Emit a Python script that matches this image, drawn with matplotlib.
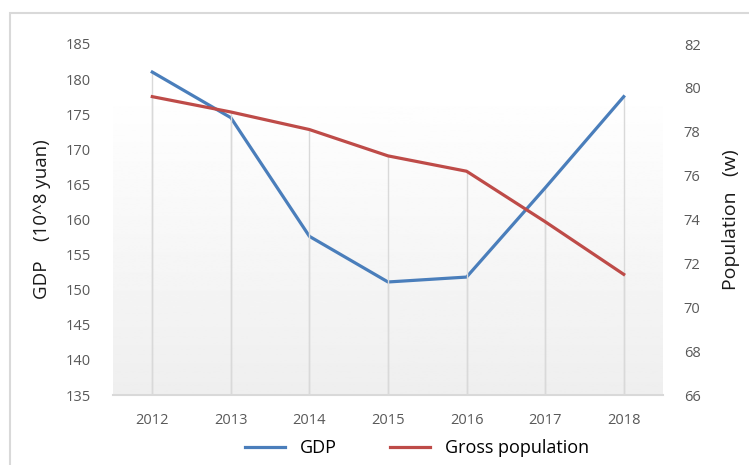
import numpy as np
import matplotlib.pyplot as plt
from matplotlib.patches import Rectangle

# Data
years = ["2012", "2013", "2014", "2015", "2016", "2017", "2018"]
gdp = [181.0, 174.5, 157.6, 151.1, 151.8, 164.5, 177.5]
population = [79.6, 78.9, 78.1, 76.9, 76.2, 73.9, 71.5]

plt.rcParams['font.family'] = ['Open Sans', 'DejaVu Sans']

blue = "#4A7EBB"
red = "#BE4B48"
grid = "#d9d9d9"
tick_col = "#595959"

fig = plt.figure(figsize=(7.49, 4.65), dpi=100)
fig.patch.set_facecolor("white")

# chart border (cropped on right / bottom)
fig.patches.append(Rectangle((10/749, -0.2), 1.3, 0.2 + 1 - 13/465,
                             transform=fig.transFigure, facecolor="none",
                             edgecolor="#d9d9d9", linewidth=1.5))

ax = fig.add_axes([113/749, 1 - 395/465, 550/749, 351/465])
ax2 = ax.twinx()

x = np.arange(len(years))

# plot area gradient
grad = np.linspace(0.935, 1.0, 256).reshape(-1, 1)
ax.imshow(grad, cmap="gray", vmin=0, vmax=1, aspect="auto",
          extent=[0, 1, 0, 0.875], transform=ax.transAxes,
          origin="lower", zorder=0)

# Axis ranges
ax.set_xlim(-0.5, len(years) - 0.5)
ax.set_ylim(135, 185)
ax2.set_ylim(66, 82)

# Drop lines
ax.vlines(x, 135, gdp, color=grid, linewidth=1, zorder=1)
ax2.vlines(x, 66, population, color=grid, linewidth=1, zorder=1)

# Lines
l1, = ax.plot(x, gdp, color=blue, linewidth=2.3, zorder=3, label="GDP")
l2, = ax2.plot(x, population, color=red, linewidth=2.3, zorder=3,
               label="Gross population")

ax.set_xticks(x)
ax.set_xticklabels(years)
ax.set_yticks(np.arange(135, 186, 5))
ax2.set_yticks(np.arange(66, 83, 2))

for a in (ax, ax2):
    for s in a.spines.values():
        s.set_visible(False)
    a.tick_params(length=0, labelsize=10.5, colors=tick_col)
ax.spines["bottom"].set_visible(True)
ax.spines["bottom"].set_color(grid)
ax.spines["bottom"].set_linewidth(1.5)
ax.tick_params(axis="y", pad=16)
ax.tick_params(axis="x", pad=13)
ax2.tick_params(axis="y", pad=15)

ax.set_ylabel("GDP    (10^8 yuan)", fontsize=13.5, color="#1a1a1a")
ax.yaxis.set_label_coords(-0.112, 0.5)
ax2.set_ylabel("Population   (w)", fontsize=14, color="#1a1a1a")
ax2.yaxis.set_label_coords(1.108, 0.5)

fig.legend(handles=[l1, l2], loc="center", ncol=2, frameon=False,
           bbox_to_anchor=(417/749, 1 - 448/465), fontsize=13,
           handlelength=2.2, handletextpad=0.8, columnspacing=3.0)

plt.savefig("out.png", dpi=100)
